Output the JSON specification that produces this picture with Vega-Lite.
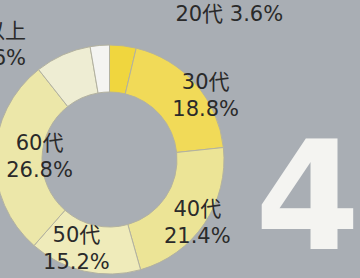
{
  "$schema": "https://vega.github.io/schema/vega-lite/v6.json",
  "width": 205,
  "height": 319,
  "autosize": {"type": "none"},
  "padding": {"left": 7, "top": 0, "right": 148, "bottom": -41},
  "background": "#a9aeb4",
  "config": {"view": {"stroke": null}},
  "title": {
    "text": "4",
    "orient": "bottom",
    "anchor": "end",
    "frame": "group",
    "offset": 0,
    "dx": 148,
    "dy": -70,
    "baseline": "alphabetic",
    "fontSize": 151,
    "fontWeight": "bold",
    "font": "DejaVu Sans",
    "color": "#f4f4f1"
  },
  "data": {
    "values": [
      {"age": "20代", "pct": 3.6, "label": "20代 3.6%"},
      {"age": "30代", "pct": 18.8, "label": "30代\n18.8%"},
      {"age": "40代", "pct": 21.4, "label": "40代\n21.4%"},
      {"age": "50代", "pct": 15.2, "label": "50代\n15.2%"},
      {"age": "60代", "pct": 26.8, "label": "60代\n26.8%"},
      {"age": "70代", "pct": 7.6, "label": "70代\n7.6%"},
      {"age": "80代以上", "pct": 2.6, "label": "80代以上\n2.6%"}
    ]
  },
  "layer": [
    {
      "mark": {"type": "arc", "innerRadius": 67.5, "outerRadius": 114.5, "stroke": "#b3b2a0", "strokeWidth": 1},
      "encoding": {
        "theta": {"field": "pct", "type": "quantitative", "stack": true},
        "color": {
          "field": "age",
          "type": "nominal",
          "scale": {
            "domain": ["20代", "30代", "40代", "50代", "60代", "70代", "80代以上"],
            "range": ["#f0d63e", "#f1da58", "#ece496", "#efebba", "#ece7a9", "#eeedd3", "#f4f4f1"]
          },
          "legend": null
        }
      }
    },
    {
      "mark": {
        "type": "text",
        "radius": 100,
        "lineBreak": "\n",
        "lineHeight": 27,
        "font": "DejaVu Sans, Noto Sans CJK JP",
        "fontSize": 21,
        "color": "#2a2a2a",
        "baseline": "middle",
        "align": {"expr": "datum.age === '80代以上' ? 'right' : 'center'"},
        "dx": {"expr": "datum.age === '20代' ? 108 : datum.age === '30代' ? 21 : datum.age === '40代' ? 5 : datum.age === '50代' ? -11 : datum.age === '60代' ? 30 : datum.age === '70代' ? -170 : -75"},
        "dy": {"expr": "datum.age === '20代' ? -45 : datum.age === '30代' ? -11 : datum.age === '40代' ? -6 : datum.age === '50代' ? -21 : datum.age === '60代' ? -13 : datum.age === '70代' ? 22 : -28"}
      },
      "encoding": {
        "theta": {"field": "pct", "type": "quantitative", "stack": true},
        "detail": {"field": "age", "type": "nominal"},
        "text": {"field": "label", "type": "nominal"}
      }
    }
  ]
}
